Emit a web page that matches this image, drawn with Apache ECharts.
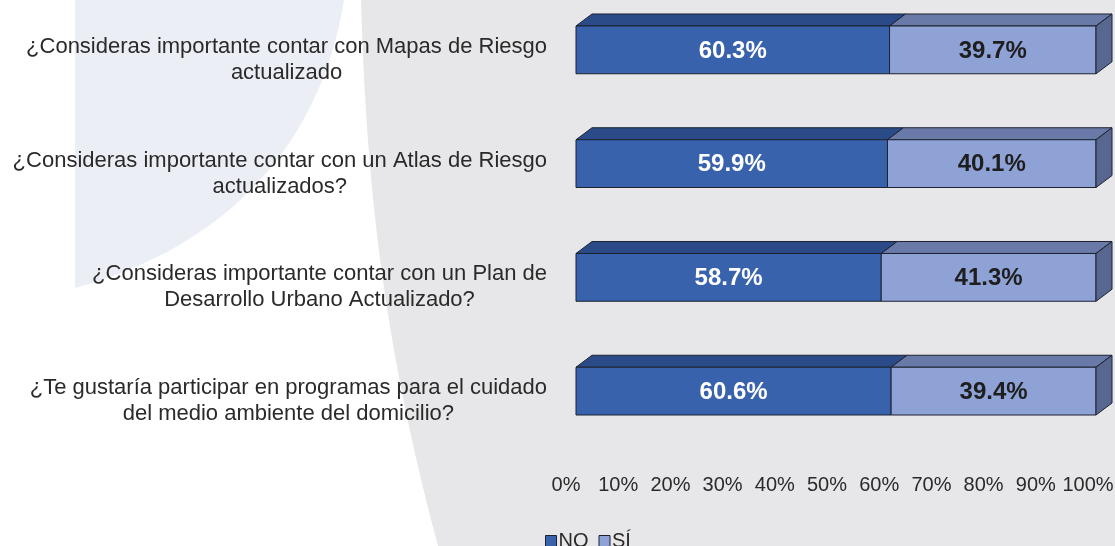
<!DOCTYPE html>
<html>
<head>
<meta charset="utf-8">
<script src="https://cdn.jsdelivr.net/npm/echarts@6/dist/echarts.min.js"></script>
<style>
  html, body { margin: 0; padding: 0; background: #fff; }
  #chart { width: 1115px; height: 546px; }
</style>
</head>
<body>
<div id="chart"></div>
<script>
// preguntas (de arriba a abajo)
var categories = [
    '¿Consideras importante contar con Mapas de Riesgo\nactualizado',
    '¿Consideras importante contar con un Atlas de Riesgo\nactualizados?',
    '¿Consideras importante contar con un Plan de\nDesarrollo Urbano Actualizado?',
    '¿Te gustaría participar en programas para el cuidado\ndel medio ambiente del domicilio?'
];
var noValues = [60.3, 59.9, 58.7, 60.6];
var siValues = [39.7, 40.1, 41.3, 39.4];
var pctTicks = ['0%', '10%', '20%', '30%', '40%', '50%', '60%', '70%', '80%', '90%', '100%'];

var DX = 16, DY = 12; // profundidad del efecto 3d
var edge = '#1c2230';
var fuente = '"Liberation Sans", Arial, sans-serif';

var estilos = {
    NO: { front: '#3962ad', top: '#2b4b88', text: '#ffffff' },
    SI: { front: '#8fa2d6', top: '#6a7aa8', side: '#58678f', text: '#1e1e1e' }
};

// curva bezier para el fondo decorativo
function bezier(p0, c0, c1, p1, n) {
    var pts = [];
    for (var k = 0; k <= n; k++) {
        var t = k / n, u = 1 - t;
        pts.push([
            u*u*u*p0[0] + 3*u*u*t*c0[0] + 3*u*t*t*c1[0] + t*t*t*p1[0],
            u*u*u*p0[1] + 3*u*u*t*c0[1] + 3*u*t*t*c1[1] + t*t*t*p1[1]
        ]);
    }
    return pts;
}
var fondoAzul = [[75, 0]].concat(bezier([344, 0], [325, 120], [250, 240], [75, 288], 30));
var fondoGris = bezier([361, 0], [366, 170], [380, 330], [438, 546], 30).concat([[1115, 546], [1115, 0]]);

function makeRender(est, lado) {
    return function(params, api) {
        var cat = api.value(0);
        var p0 = api.coord([api.value(1), cat]);
        var p1 = api.coord([api.value(2), cat]);
        var h = api.size([0, 1])[1] * 0.42;
        var x0 = p0[0], x1 = p1[0];
        var y0 = p0[1] - h / 2, y1 = p0[1] + h / 2;
        var hijos = [
            {
                type: 'polygon',
                shape: { points: [[x0, y0], [x0 + DX, y0 - DY], [x1 + DX, y0 - DY], [x1, y0]] },
                style: { fill: est.top, stroke: edge, lineWidth: 1 }
            },
            {
                type: 'rect',
                shape: { x: x0, y: y0, width: x1 - x0, height: y1 - y0 },
                style: { fill: est.front, stroke: edge, lineWidth: 1 }
            }
        ];
        if (lado) {
            hijos.push({
                type: 'polygon',
                shape: { points: [[x1, y0], [x1 + DX, y0 - DY], [x1 + DX, y1 - DY], [x1, y1]] },
                style: { fill: est.side, stroke: edge, lineWidth: 1 }
            });
        }
        hijos.push({
            type: 'text',
            style: {
                x: (x0 + x1) / 2, y: p0[1] + 1,
                text: (api.value(2) - api.value(1)).toFixed(1) + '%',
                align: 'center', verticalAlign: 'middle',
                fill: est.text,
                font: 'bold 24px ' + fuente
            }
        });
        return { type: 'group', children: hijos };
    };
}

var dataNo = [], dataSi = [];
for (var i = 0; i < categories.length; i++) {
    dataNo.push([i, 0, noValues[i]]);
    dataSi.push([i, noValues[i], noValues[i] + siValues[i]]);
}

var myChart = echarts.init(document.getElementById('chart'));
var option = {
    backgroundColor: '#ffffff',
    animation: false,
    graphic: [
        {
            type: 'polygon', z: -10, silent: true,
            shape: { points: fondoAzul },
            style: { fill: '#eceef6' }
        },
        {
            type: 'polygon', z: -10, silent: true,
            shape: { points: fondoGris },
            style: { fill: '#e7e7e9' }
        }
    ],
    grid: [
        { left: 576, right: 19, top: -7, height: 455, outerBoundsMode: 'none', containLabel: false },
        { left: 566, width: 522, top: 447, height: 1, outerBoundsMode: 'none', containLabel: false }
    ],
    xAxis: [
        { type: 'value', gridIndex: 0, min: 0, max: 100, show: false },
        {
            type: 'category', gridIndex: 1, data: pctTicks, boundaryGap: false,
            axisLine: { show: false }, axisTick: { show: false },
            axisLabel: { margin: 27, fontSize: 20, color: '#2a2a2a', fontFamily: fuente, interval: 0, hideOverlap: false }
        }
    ],
    yAxis: [
        {
            type: 'category', gridIndex: 0, data: categories, inverse: true,
            axisLine: { show: false }, axisTick: { show: false },
            axisLabel: {
                margin: 29, align: 'right', padding: [20, 0, 0, 0],
                formatter: function(v) {
                    return v.split('\n').map(function(l) { return '{c|' + l + '}'; }).join('\n');
                },
                rich: {
                    c: { align: 'center', fontSize: 22, lineHeight: 26, color: '#2a2a2a', fontFamily: fuente }
                }
            }
        },
        { type: 'value', gridIndex: 1, show: false }
    ],
    legend: {
        left: 540, top: 526,
        itemWidth: 11, itemHeight: 11, itemGap: 10,
        textStyle: { fontSize: 20, color: '#2a2a2a', fontFamily: fuente, padding: [0, 0, 0, -3] },
        data: [
            { name: 'NO', icon: 'rect', itemStyle: { color: estilos.NO.front, borderColor: edge, borderWidth: 1 } },
            { name: 'SÍ', icon: 'rect', itemStyle: { color: estilos.SI.front, borderColor: edge, borderWidth: 1 } }
        ]
    },
    series: [
        {
            name: 'NO', type: 'custom', xAxisIndex: 0, yAxisIndex: 0,
            renderItem: makeRender(estilos.NO, false),
            encode: { x: [1, 2], y: 0 },
            itemStyle: { color: estilos.NO.front },
            data: dataNo
        },
        {
            name: 'SÍ', type: 'custom', xAxisIndex: 0, yAxisIndex: 0,
            renderItem: makeRender(estilos.SI, true),
            encode: { x: [1, 2], y: 0 },
            itemStyle: { color: estilos.SI.front },
            data: dataSi
        }
    ]
};
myChart.setOption(option);
window.onresize = function() {
    myChart.resize();
}
</script>
</body>
</html>
